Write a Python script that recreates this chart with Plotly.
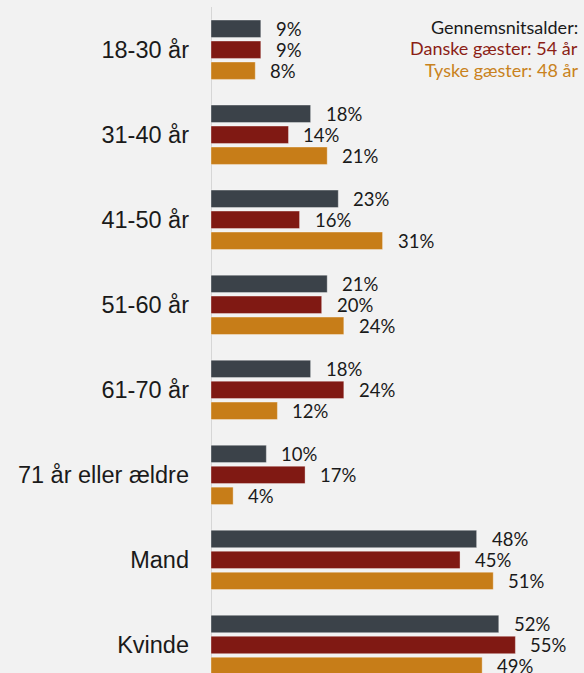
import plotly.graph_objects as go

categories = ["18-30 år", "31-40 år", "41-50 år", "51-60 år", "61-70 år",
              "71 år eller ældre", "Mand", "Kvinde"]
series_names = ["I alt", "Danske gæster", "Tyske gæster"]
total = [9, 18, 23, 21, 18, 10, 48, 52]
danish = [9, 14, 16, 20, 24, 17, 45, 55]
german = [8, 21, 31, 24, 12, 4, 51, 49]
colors = ["#3b4249", "#801913", "#c77d18"]
note_lines = ["Gennemsnitsalder:", "Danske gæster: 54 år", "Tyske gæster: 48 år"]
note_colors = ["#1a1a1a", "#8b1e16", "#c98220"]

series = [total, danish, german]
fig = go.Figure()
for name, vals, col in zip(series_names, series, colors):
    fig.add_trace(go.Bar(
        y=categories, x=vals, name=name, orientation="h",
        marker=dict(color=col, line=dict(color="rgba(255,255,255,0.35)", width=1)),
        hoverinfo="skip",
    ))

W, H = 584, 673
annotations = []
offsets = [-21, 0, 21]
for vals, off in zip(series, offsets):
    for cat, v in zip(categories, vals):
        annotations.append(dict(
            x=v, y=cat, xref="x", yref="y", text=f"{v}%", showarrow=False,
            xanchor="left", yanchor="middle", xshift=13, yshift=-off,
            font=dict(family="Lato", size=18.5, color="#1a1a1a"),
        ))

for i, (t, c) in enumerate(zip(note_lines, note_colors)):
    annotations.append(dict(
        x=(580 - 211) / (W - 211), y=1 - (27 + 21.5 * i) / H,
        xref="paper", yref="paper", text=t, showarrow=False,
        xanchor="right", yanchor="middle",
        font=dict(family="Lato", size=18, color=c),
    ))

fig.update_layout(
    width=W, height=H,
    margin=dict(l=211, r=0, t=0, b=0),
    paper_bgcolor="#f2f2f2", plot_bgcolor="#f2f2f2",
    barmode="group", bargap=0.26, bargroupgap=0.17,
    showlegend=False,
    xaxis=dict(range=[0, 67.4], visible=False),
    yaxis=dict(type="category", categoryorder="array", categoryarray=categories,
               range=[7.33, -0.585], showgrid=False, zeroline=False, showline=False,
               ticks="", ticklabelstandoff=21,
               tickfont=dict(family="Liberation Sans, Arial", size=23.5, color="#1a1a1a")),
    annotations=annotations,
    shapes=[dict(type="line", xref="x", yref="paper", x0=0, x1=0, y0=0, y1=1 - 7 / H,
                 line=dict(color="#d6d6d6", width=2), layer="below")],
)

fig.write_html("out.html", config={"displayModeBar": False},
               post_script="document.body.style.margin='0';document.body.style.overflow='hidden';")
